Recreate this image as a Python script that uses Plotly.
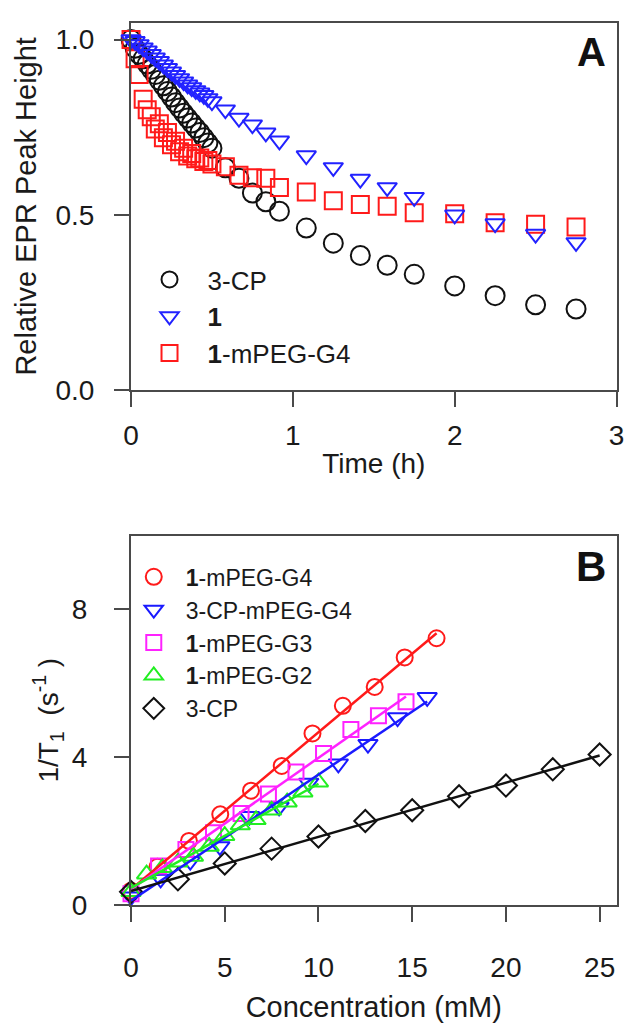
import numpy as np
import plotly.graph_objects as go

# ---------------- Panel A data ----------------
time_h = [0.0, 0.025, 0.05, 0.075, 0.1, 0.125, 0.15, 0.175, 0.2, 0.225, 0.25,
          0.275, 0.3, 0.325, 0.35, 0.375, 0.4, 0.425, 0.45, 0.475, 0.5,
          0.583, 0.667, 0.75, 0.833, 0.917, 1.083, 1.25, 1.417, 1.583, 1.75,
          2.0, 2.25, 2.5, 2.75]
peak_3cp = [1.0, 0.975, 0.958, 0.945, 0.93, 0.915, 0.9, 0.884, 0.868, 0.852, 0.836,
            0.82, 0.805, 0.79, 0.776, 0.762, 0.748, 0.735, 0.72, 0.705, 0.69,
            0.634, 0.604, 0.562, 0.537, 0.51, 0.462, 0.419, 0.384, 0.356, 0.33,
            0.297, 0.269, 0.243, 0.231]
peak_1 = [1.0, 0.995, 0.986, 0.977, 0.968, 0.958, 0.948, 0.938, 0.928, 0.918, 0.908,
          0.898, 0.889, 0.88, 0.871, 0.863, 0.855, 0.848, 0.841, 0.832, 0.823,
          0.80, 0.776, 0.757, 0.734, 0.711, 0.669, 0.635, 0.602, 0.578, 0.55,
          0.50, 0.475, 0.445, 0.421]
peak_1_g4 = [1.0, 0.945, 0.90, 0.83, 0.80, 0.78, 0.745, 0.76, 0.72, 0.735, 0.70,
             0.71, 0.68, 0.69, 0.668, 0.675, 0.66, 0.662, 0.652, 0.655, 0.645,
             0.637, 0.613, 0.606, 0.604, 0.578, 0.565, 0.54, 0.529, 0.524, 0.506,
             0.503, 0.477, 0.473, 0.465]

# ---------------- Panel B data ----------------
conc_1_g4 = [0, 1.41, 3.09, 4.76, 6.4, 8.04, 9.68, 11.3, 13.0, 14.6, 16.3]
rate_1_g4 = [0.38, 1.03, 1.73, 2.45, 3.09, 3.76, 4.64, 5.39, 5.90, 6.70, 7.22]
conc_cp_g4 = [0, 1.58, 3.16, 4.74, 6.32, 7.9, 9.48, 11.06, 12.64, 14.22, 15.8]
rate_cp_g4 = [0.22, 0.70, 1.18, 1.58, 2.4, 2.65, 3.3, 3.82, 4.35, 5.07, 5.62]
conc_1_g3 = [0, 1.47, 2.93, 4.4, 5.87, 7.33, 8.8, 10.27, 11.73, 13.2, 14.67]
rate_1_g3 = [0.3, 1.05, 1.5, 1.95, 2.47, 3.0, 3.6, 4.1, 4.75, 5.12, 5.5]
conc_1_g2 = [0, 0.83, 1.67, 2.5, 3.33, 4.17, 5.0, 5.83, 6.67, 7.5, 8.33, 9.17, 10.0]
rate_1_g2 = [0.35, 0.83, 1.0, 1.15, 1.31, 1.58, 1.87, 2.16, 2.3, 2.56, 2.78, 3.05, 3.32]
conc_3cp = [0, 2.5, 5, 7.5, 10, 12.5, 15, 17.5, 20, 22.5, 25]
rate_3cp = [0.35, 0.69, 1.12, 1.52, 1.85, 2.27, 2.56, 2.94, 3.23, 3.67, 4.07]

FONT = "Liberation Sans, Arial, sans-serif"
AXC = "#4a4a4a"
TXT = "#1a1a1a"

fig = go.Figure()

# Panel A traces
a_series = [
    ("3-CP", peak_3cp, "circle-open", "#111111", 19, 1),
    ("<b>1</b>-mPEG-G4", peak_1_g4, "square-open", "#ff1a1a", 17, 3),
    ("<b>1</b>", peak_1, "triangle-down-open", "#2222ff", 17, 2),
]
for name, ys, sym, col, sz, rank in a_series:
    fig.add_trace(go.Scatter(
        x=time_h, y=ys, mode="markers", name=name, legend="legend",
        legendrank=rank, xaxis="x", yaxis="y", cliponaxis=False,
        marker=dict(symbol=sym, size=sz, color=col, line=dict(width=2, color=col)),
    ))

# Panel B traces
b_series = [
    ("<b>1</b>-mPEG-G4", conc_1_g4, rate_1_g4, "circle-open", "#ff1a1a", 16),
    ("3-CP-mPEG-G4", conc_cp_g4, rate_cp_g4, "triangle-down-open", "#1a1aff", 17),
    ("<b>1</b>-mPEG-G3", conc_1_g3, rate_1_g3, "square-open", "#ff22ff", 15),
    ("<b>1</b>-mPEG-G2", conc_1_g2, rate_1_g2, "triangle-up-open", "#22ee22", 17),
    ("3-CP", conc_3cp, rate_3cp, "diamond-open", "#111111", 17),
]
for i, (name, xs, ys, sym, col, sz) in enumerate(b_series):
    fig.add_trace(go.Scatter(
        x=xs, y=ys, mode="markers", name=name, legend="legend2",
        legendrank=i + 1, xaxis="x2", yaxis="y2", cliponaxis=False,
        marker=dict(symbol=sym, size=sz, color=col, line=dict(width=2, color=col)),
    ))
for i, (name, xs, ys, sym, col, sz) in enumerate(b_series):
    slope, icpt = np.polyfit(xs, ys, 1)
    xf = np.array([min(xs), max(xs)])
    fig.add_trace(go.Scatter(
        x=xf, y=slope * xf + icpt, mode="lines", showlegend=False,
        xaxis="x2", yaxis="y2", line=dict(color=col, width=2.5),
    ))

W, H = 636, 1024
L, R = 118, 616
xdom = [L / W, R / W]
a_top, a_bot = 15, 388
b_top, b_bot = 536, 911

axis_common = dict(
    showline=True, linecolor=AXC, linewidth=2, mirror=True,
    ticks="outside", ticklen=15, tickwidth=2, tickcolor=AXC,
    showgrid=False, zeroline=False,
    tickfont=dict(family=FONT, size=28, color=TXT),
)

fig.update_layout(
    width=W, height=H,
    margin=dict(l=0, r=0, t=0, b=0),
    paper_bgcolor="white", plot_bgcolor="white",
    font=dict(family=FONT, color=TXT),
    xaxis=dict(domain=xdom, range=[0, 3], tickvals=[0, 1, 2, 3], anchor="y",
               title=dict(text="Time (h)", font=dict(family=FONT, size=28, color=TXT), standoff=4),
               ticklabelstandoff=4, **axis_common),
    yaxis=dict(domain=[1 - a_bot / H, 1 - a_top / H], range=[0, 1.048], anchor="x",
               tickvals=[0, 0.5, 1.0], ticktext=["0.0", "0.5", "1.0"],
               title=dict(text="Relative EPR Peak Height", font=dict(family=FONT, size=29, color=TXT), standoff=10),
               ticklabelstandoff=14, **axis_common),
    xaxis2=dict(domain=xdom, range=[0, 25.9], tickvals=[0, 5, 10, 15, 20, 25], anchor="y2",
                title=dict(text="Concentration (mM)", font=dict(family=FONT, size=29, color=TXT), standoff=14),
                ticklabelstandoff=22, **axis_common),
    yaxis2=dict(domain=[1 - b_bot / H, 1 - b_top / H], range=[0, 10], anchor="x2",
                tickvals=[0, 4, 8],
                title=dict(text="1/T<sub>1</sub>  (s<sup>-1</sup> )", font=dict(family=FONT, size=28, color=TXT), standoff=5),
                ticklabelstandoff=21, **axis_common),
    legend=dict(x=118.5 / W, y=1 - 252 / H, xanchor="left", yanchor="top",
                bgcolor="rgba(0,0,0,0)", borderwidth=0,
                font=dict(family=FONT, size=26, color=TXT), itemwidth=66,
                tracegroupgap=0),
    legend2=dict(x=108.5 / W, y=1 - 556 / H, xanchor="left", yanchor="top",
                 bgcolor="rgba(0,0,0,0)", borderwidth=0,
                 font=dict(family=FONT, size=23, color=TXT), itemwidth=54,
                 tracegroupgap=0),
    annotations=[
        dict(text="<b>A</b>", x=590 / W, y=1 - 45 / H, xref="paper", yref="paper",
             xanchor="center", yanchor="middle",
             showarrow=False, font=dict(family=FONT, size=40, color="#111111")),
        dict(text="<b>B</b>", x=590 / W, y=1 - 567 / H, xref="paper", yref="paper",
             xanchor="center", yanchor="middle",
             showarrow=False, font=dict(family=FONT, size=42, color="#111111")),
    ],
)

fig.write_html("out.html")
